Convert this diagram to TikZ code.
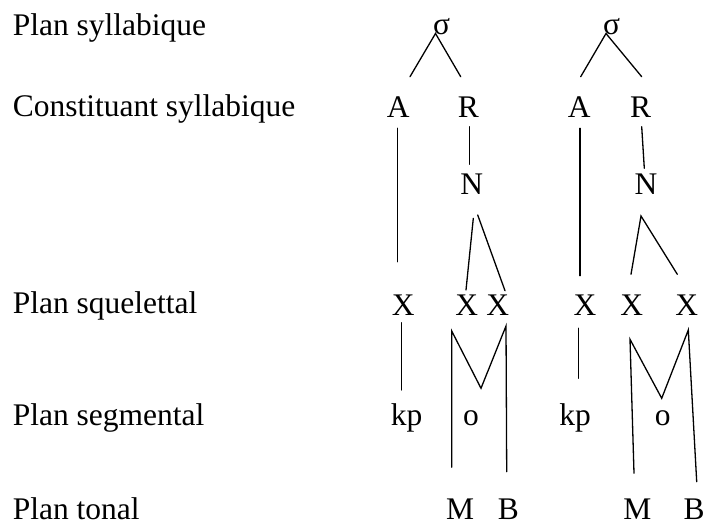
\documentclass[tikz,border=0pt]{standalone}
\usepackage{fontspec}
\setmainfont{Liberation Serif}
\begin{document}
\begin{tikzpicture}[x=1bp,y=-1bp,
  lbl/.style={anchor=base west,inner sep=0pt,font=\fontsize{31.6}{38}\selectfont},
  sym/.style={anchor=base,inner sep=0pt,font=\fontsize{31.6}{38}\selectfont},
  flat/.style={text depth=0pt},
  ln/.style={line width=1.3bp,line cap=round,line join=miter}]
\useasboundingbox (0,0) rectangle (704,522);
% level labels
\node[lbl] (l1) at (12.7,35.7) {Plan syllabique};
\node[lbl] (l2) at (12.7,116.7) {Constituant syllabique};
\node[lbl] (l3) at (12.7,313) {Plan squelettal};
\node[lbl] (l4) at (12.7,425) {Plan segmental};
\node[lbl,flat] (l5) at (12.7,519) {Plan tonal};
% tree 1 symbols
\node[sym] (s1) at (441.5,35) {σ};
\node[sym] (A1) at (398.3,117.3) {A};
\node[sym] (R1) at (468.3,117.3) {R};
\node[sym] (N1) at (471.7,195) {N};
\node[sym] (X1) at (403.3,315) {X};
\node[sym] (X2) at (466.7,315) {X};
\node[sym] (X3) at (497.7,315) {X};
\node[sym] (kp1) at (406.7,425) {kp};
\node[sym] (o1) at (471,425) {o};
\node[sym,flat] (M1) at (460,519) {M};
\node[sym,flat] (B1) at (508.3,519) {B};
% tree 2 symbols
\node[sym] (s2) at (611.7,35) {σ};
\node[sym] (A2) at (579.3,117.3) {A};
\node[sym] (R2) at (640.7,117.3) {R};
\node[sym] (N2) at (646,195) {N};
\node[sym] (X4) at (585,315) {X};
\node[sym] (X5) at (631.7,315) {X};
\node[sym] (X6) at (686.7,315) {X};
\node[sym] (kp2) at (575,425) {kp};
\node[sym] (o2) at (662.7,425) {o};
\node[sym,flat] (M2) at (637.3,519) {M};
\node[sym,flat] (B2) at (694,519) {B};
% connector end points, tree 1
\coordinate (s1b) at (435.5,33.5);
\coordinate (A1t) at (410,76.7);
\coordinate (R1t) at (460.7,76.7);
\coordinate (A1d) at (397.3,128.3);
\coordinate (X1u) at (397.3,261.7);
\coordinate (R1d) at (469.3,126.7);
\coordinate (N1u) at (469.3,164.3);
\coordinate (N1a) at (473.3,218.3);
\coordinate (N1b) at (477.7,215);
\coordinate (X2u) at (466,290);
\coordinate (X3u) at (505,290.7);
\coordinate (X1d) at (401.7,322.7);
\coordinate (kp1u) at (401.7,390);
\coordinate (X2d) at (451.7,331);
\coordinate (M1u) at (451.7,467.3);
\coordinate (o1u) at (481,388.3);
\coordinate (X3d) at (506,326);
\coordinate (B1u) at (506.7,471.7);
% connector end points, tree 2
\coordinate (s2b) at (606,33.5);
\coordinate (A2t) at (580.7,76.7);
\coordinate (R2t) at (641.7,76.7);
\coordinate (A2d) at (580,128.3);
\coordinate (X4u) at (580,275.7);
\coordinate (R2d) at (641.7,126.7);
\coordinate (N2u) at (644.3,168.3);
\coordinate (N2d) at (641,216);
\coordinate (X5u) at (631,274.3);
\coordinate (X6u) at (677.3,274.3);
\coordinate (X4d) at (578.3,328.3);
\coordinate (kp2u) at (578.3,378.3);
\coordinate (X5d) at (630,339.3);
\coordinate (M2u) at (634,473.3);
\coordinate (o2u) at (661.7,398.3);
\coordinate (X6d) at (688.3,330);
\coordinate (B2u) at (696.7,481.7);
% connectors tree 1
\draw[ln] (A1t) -- (s1b) -- (R1t);
\draw[ln] (A1d) -- (X1u);
\draw[ln] (R1d) -- (N1u);
\draw[ln] (N1a) -- (X2u);
\draw[ln] (N1b) -- (X3u);
\draw[ln] (X1d) -- (kp1u);
\draw[ln] (M1u) -- (X2d) -- (o1u) -- (X3d) -- (B1u);
% connectors tree 2
\draw[ln] (A2t) -- (s2b) -- (R2t);
\draw[ln] (A2d) -- (X4u);
\draw[ln] (R2d) -- (N2u);
\draw[ln] (X5u) -- (N2d) -- (X6u);
\draw[ln] (X4d) -- (kp2u);
\draw[ln] (M2u) -- (X5d) -- (o2u) -- (X6d) -- (B2u);
\end{tikzpicture}
\end{document}
